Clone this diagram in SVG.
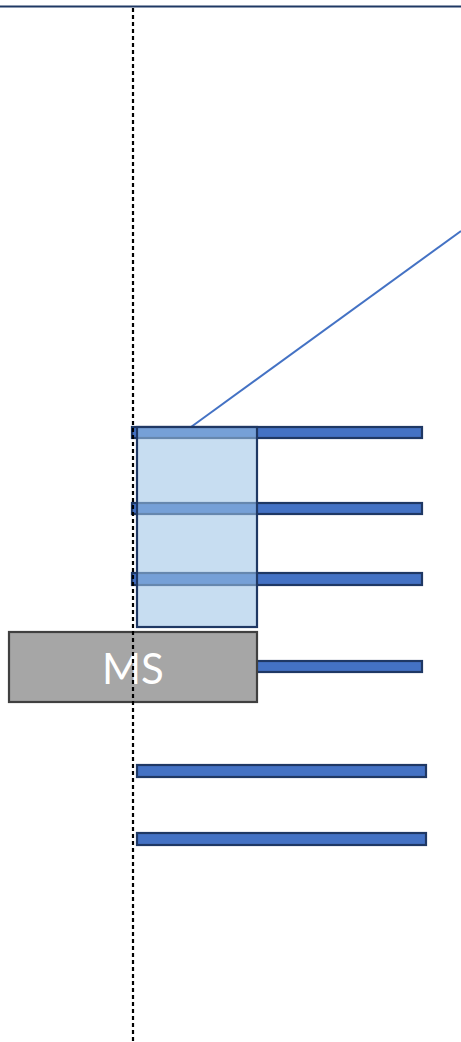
<svg xmlns="http://www.w3.org/2000/svg" width="461" height="1042" viewBox="0 0 461 1042">
<style>
.bar{fill:#4472c4;stroke:#1f3864;stroke-width:2.2}
.shade{fill:#9dc3e6;fill-opacity:0.57;stroke:#1f3864;stroke-width:2.2}
.ms{fill:#a6a6a6;stroke:#404040;stroke-width:2.2}
.lbl{font-family:Lato,"Liberation Sans",sans-serif;font-size:42px;fill:#ffffff}
</style>
<rect width="461" height="1042" fill="#ffffff"/>
<g id="connectors">
<line x1="0" y1="6.5" x2="461" y2="6.5" stroke="#1f3864" stroke-width="2.2"/>
<line x1="191" y1="427" x2="461" y2="231" stroke="#4472c4" stroke-width="2"/>
</g>
<g id="bar1"><rect class="bar" x="132" y="427" width="290" height="11"/></g>
<g id="bar2"><rect class="bar" x="132" y="503" width="290" height="11"/></g>
<g id="bar3"><rect class="bar" x="132" y="573" width="290" height="12"/></g>
<g id="bar4"><rect class="bar" x="132" y="661" width="290" height="11"/></g>
<g id="bar5"><rect class="bar" x="137" y="765" width="289" height="12"/></g>
<g id="bar6"><rect class="bar" x="137" y="833" width="289" height="12"/></g>
<g id="shade"><rect class="shade" x="137" y="427" width="120" height="200"/></g>
<g id="ms"><rect class="ms" x="9" y="632" width="248" height="70"/><text class="lbl" x="133" y="684" text-anchor="middle">MS</text></g>
<g id="axis"><line x1="133" y1="8" x2="133" y2="1042" stroke="#000000" stroke-width="2.2" stroke-dasharray="4,3"/></g>
</svg>
